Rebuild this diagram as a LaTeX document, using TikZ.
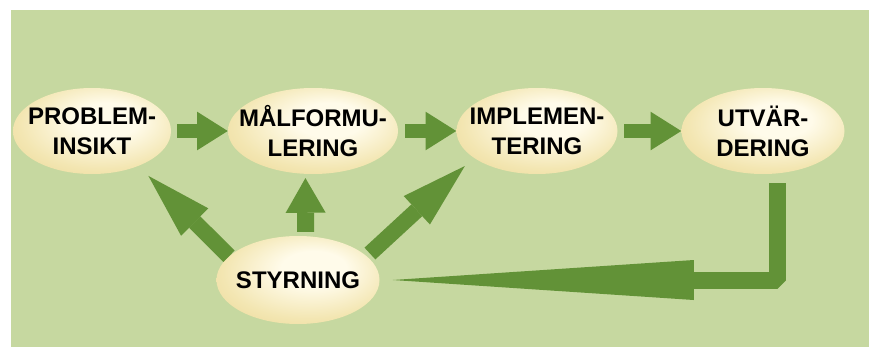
\documentclass[tikz,border=0pt]{standalone}
\usepackage{fontspec}
\setsansfont{Liberation Sans}
\usepackage{xcolor}
\usepackage{tikz}
\usetikzlibrary{shapes.geometric}
\usetikzlibrary{arrows.meta}

\definecolor{pagegreen}{HTML}{C6D8A0}
\definecolor{arrowgreen}{HTML}{629237}
\definecolor{eggpale}{HTML}{FFFBEA}
\definecolor{eggmid}{HTML}{F3E6B2}
\definecolor{egggold}{HTML}{E8D28C}
\definecolor{eggrim}{HTML}{D9BD62}
\pgfdeclareradialshading{egg}{\pgfpoint{6bp}{8bp}}{color(0bp)=(eggpale); color(10bp)=(eggpale); color(26bp)=(eggmid); color(42bp)=(egggold); color(52bp)=(eggrim)}

\begin{document}
\begin{tikzpicture}[x=0.75pt,y=0.75pt,yscale=-1,xscale=1,
  stage/.style={ellipse,shade,shading=egg,minimum height=64.5pt,inner xsep=-30pt,inner ysep=-12pt,align=center,
    font=\sffamily\bfseries\fontsize{18}{22.5}\selectfont},
  flow/.style={arrowgreen,line width=10.5pt,-{Triangle[length=23pt,width=29pt,line width=0pt]}},
  rise/.style={arrowgreen,line width=12.75pt,-{Triangle[length=26pt,width=30pt,line width=0pt]}},
  lift/.style={arrowgreen,line width=12pt,-{Triangle[length=49pt,width=29pt,line width=0pt]}},
  back/.style={arrowgreen,line width=12.75pt,line join=bevel,-{Triangle[length=225.75pt,width=30pt,line width=0pt]}}]
\useasboundingbox (0,0) rectangle (869,347);

%Shape: Rectangle [background]
\fill[white] (0,0) rectangle (869,347);
\fill[pagegreen] (11,10) rectangle (869,347);

% Stages
\node[stage,minimum width=118.5pt] (prob) at (92,131) {PROBLEM-\\INSIKT};
\node[stage,minimum width=127.5pt] (malf) at (313,131) {MÅLFORMU-\\LERING};
\node[stage,minimum width=120.75pt] (impl) at (537,131) {IMPLEMEN-\\TERING};
\node[stage,minimum width=122.25pt] (utv) at (763,131) {UTVÄR-\\DERING};
\node[stage,minimum width=122.25pt,minimum height=66pt] (styr) at (298,280) {STYRNING};

% Straight arrows
\draw[flow,shorten <=4.5pt] (prob.east) -- (malf.west);
\draw[flow,shorten <=5.25pt] (malf.east) -- (impl.west);
\draw[flow,shorten <=4.9pt] (impl.east) -- (utv.west);

% Arrows from STYRNING
\draw[lift,shorten >=10.5pt] (styr.161) -- (prob.-37);
\draw[rise,shorten <=3pt,shorten >=3pt] (styr.80) -- (malf.-100);
\draw[lift,shorten <=3pt,shorten >=9pt] (styr.19) -- (impl.203);

% Feedback arrow
\coordinate (fbtop) at (777.5,183);
\draw[back,shorten >=9.75pt] (fbtop) |- (styr.east);

\end{tikzpicture}
\end{document}
